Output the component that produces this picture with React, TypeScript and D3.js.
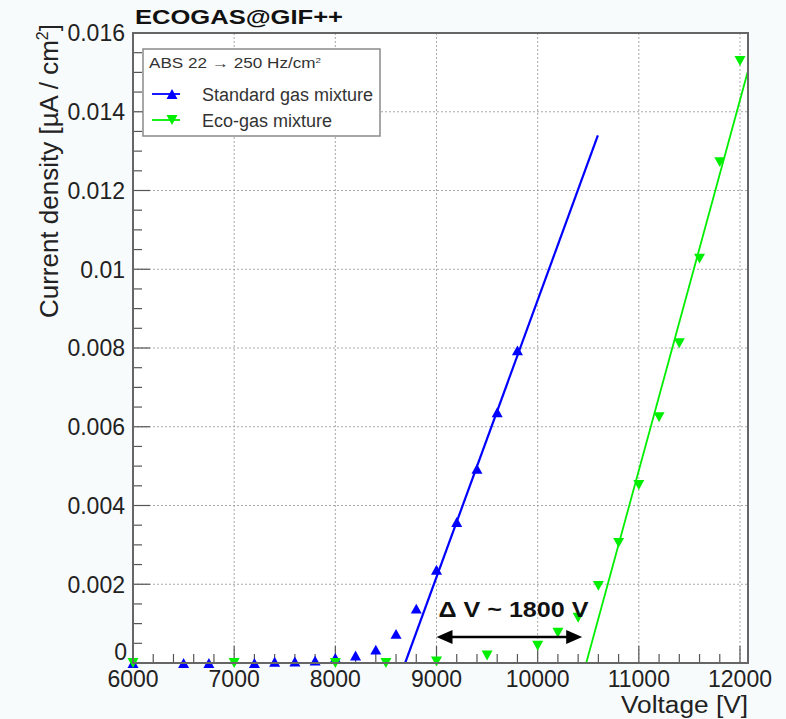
import React from "react";
import * as d3 from "d3";

// Standard gas mixture: applied voltage [V] and current density [µA/cm²]
const stdVoltage = [6000, 6500, 6750, 7200, 7400, 7600, 7800, 8000, 8200, 8400, 8600, 8800, 9000, 9200, 9400, 9600, 9800];
const stdCurrent = [0, 0, 0, 0, 0.00003, 0.00004, 0.00006, 0.00013, 0.00019, 0.00034, 0.00074, 0.00138, 0.00237, 0.00358, 0.00493, 0.00637, 0.00794];

// Eco-gas mixture
const ecoVoltage = [6000, 7000, 8000, 8500, 9000, 9500, 10000, 10200, 10400, 10600, 10800, 11000, 11200, 11400, 11600, 11800, 12000];
const ecoCurrent = [0, 0, 0, 0, 0.00004, 0.00019, 0.00044, 0.00077, 0.00115, 0.00196, 0.00305, 0.00452, 0.00624, 0.00812, 0.01027, 0.01272, 0.01529];

// Linear fits (endpoints)
const stdFitVoltage = [8690, 10595];
const stdFitCurrent = [0, 0.0134];
const ecoFitVoltage = [10480, 12079];
const ecoFitCurrent = [0, 0.01504];

// Axis ticks
const xTicks = [6000, 7000, 8000, 9000, 10000, 11000, 12000];
const yTicks = [0, 0.002, 0.004, 0.006, 0.008, 0.01, 0.012, 0.014, 0.016];

// Voltage-shift annotation
const shiftFrom = 9000;
const shiftTo = 10440;
const shiftLevel = 0.00066;
const shiftLabelLevel = 0.00118;
const shiftLabel = "\u0394 V ~ 1800 V";

const legendHeader = "ABS 22 \u2192 250 Hz/cm";
const seriesNames = ["Standard gas mixture", "Eco-gas mixture"];
const seriesColors = ["#0000ff", "#00ee00"];

const W = 786;
const H = 719;
const FONT = "'Liberation Sans', Arial, Helvetica, sans-serif";

const x = d3.scaleLinear().domain([6000, 12079]).range([133, 748]);
const y = d3.scaleLinear().domain([0, 0.016]).range([663, 33]);

const fmtY = (v: number) => String(+v.toFixed(4));

function triUp(cx: number, cy: number, s = 11) {
  const h = s * 0.9;
  return `M${cx - s / 2},${cy + h / 2}L${cx + s / 2},${cy + h / 2}L${cx},${cy - h / 2}Z`;
}
function triDown(cx: number, cy: number, s = 11) {
  const h = s * 0.9;
  return `M${cx - s / 2},${cy - h / 2}L${cx + s / 2},${cy - h / 2}L${cx},${cy + h / 2}Z`;
}

export default function App() {
  const [x0, x1] = x.range();
  const [y0, y1] = y.range();
  const line = d3
    .line<[number, number]>()
    .x((d) => x(d[0]))
    .y((d) => y(d[1]));

  const xMinor = d3.range(6000, 12079, 200).filter((v) => v % 1000 !== 0);
  const yMinor = d3.range(0, 0.0161, 0.0005).filter((v) => Math.abs(v / 0.002 - Math.round(v / 0.002)) > 1e-6);

  const stdFit = stdFitVoltage.map((v, i) => [v, stdFitCurrent[i]] as [number, number]);
  const ecoFit = ecoFitVoltage.map((v, i) => [v, ecoFitCurrent[i]] as [number, number]);

  const ay = y(shiftLevel);
  const ax0 = x(shiftFrom);
  const ax1 = x(shiftTo);
  const headL = 16;
  const headW = 7;

  return (
    <svg width={W} height={H} style={{ position: "absolute", left: 0, top: 0, background: "#f8fbfc" }} fontFamily={FONT}>
      <defs>
        <clipPath id="frameClip">
          <rect x={x0} y={y1} width={x1 - x0} height={y0 - y1} />
        </clipPath>
      </defs>
      <rect x={x0} y={y1} width={x1 - x0} height={y0 - y1} fill="#ffffff" />

      {/* grid */}
      <g stroke="#a8a8a8" strokeWidth={1} strokeDasharray="2,2">
        {xTicks.map((t) => (
          <line key={"gx" + t} x1={x(t)} x2={x(t)} y1={y1} y2={y0} />
        ))}
        {yTicks.map((t) => (
          <line key={"gy" + t} x1={x0} x2={x1} y1={y(t)} y2={y(t)} />
        ))}
      </g>

      {/* ticks */}
      <g stroke="#555" strokeWidth={1.2}>
        {xTicks.map((t) => (
          <line key={"tx" + t} x1={x(t)} x2={x(t)} y1={y0} y2={y0 - 17} />
        ))}
        {xMinor.map((t) => (
          <line key={"mx" + t} x1={x(t)} x2={x(t)} y1={y0} y2={y0 - 9} />
        ))}
        {yTicks.map((t) => (
          <line key={"ty" + t} x1={x0} x2={x0 + 17} y1={y(t)} y2={y(t)} />
        ))}
        {yMinor.map((t) => (
          <line key={"my" + t} x1={x0} x2={x0 + 9} y1={y(t)} y2={y(t)} />
        ))}
      </g>

      {/* fits */}
      <g clipPath="url(#frameClip)" fill="none">
        <path d={line(stdFit) || ""} stroke={seriesColors[0]} strokeWidth={2.2} />
        <path d={line(ecoFit) || ""} stroke={seriesColors[1]} strokeWidth={1.8} />
      </g>

      {/* data points */}
      <g fill={seriesColors[0]}>
        {stdVoltage.map((v, i) => (
          <path key={"s" + v} d={triUp(x(v), y(stdCurrent[i]))} />
        ))}
      </g>
      <g fill={seriesColors[1]}>
        {ecoVoltage.map((v, i) => (
          <path key={"e" + v} d={triDown(x(v), y(ecoCurrent[i]))} />
        ))}
      </g>

      {/* frame */}
      <rect x={x0} y={y1} width={x1 - x0} height={y0 - y1} fill="none" stroke="#666" strokeWidth={2} />

      {/* tick labels */}
      <g fontSize={23} fill="#222" textAnchor="middle">
        {xTicks.map((t) => (
          <text key={"lx" + t} x={x(t)} y={687}>
            {t}
          </text>
        ))}
      </g>
      <g fontSize={23} fill="#222" textAnchor="end">
        {yTicks.map((t) => (
          <text key={"ly" + t} x={t === 0 ? 127 : 125} y={t === 0 ? 660 : y(t)} dy={t === 0 ? 0 : "0.36em"}>
            {fmtY(t)}
          </text>
        ))}
      </g>

      {/* axis titles */}
      <text x={748} y={713} fontSize={23} textAnchor="end" fill="#222" textLength={127} lengthAdjust="spacingAndGlyphs">
        Voltage [V]
      </text>
      <text transform="translate(58,24) rotate(-90)" fontSize={26} textAnchor="end" fill="#222">
        Current density [µA / cm<tspan dy="-10" fontSize={16}>2</tspan>
        <tspan dy="10">]</tspan>
      </text>

      {/* title */}
      <text x={135} y={24} fontSize={20} fontWeight="bold" fill="#111" textLength={208} lengthAdjust="spacingAndGlyphs">
        ECOGAS@GIF++
      </text>

      {/* legend */}
      <rect x={143} y={49} width={237} height={87} fill="#ffffff" stroke="#8a8a8a" strokeWidth={1.5} />
      <text x={149} y={68} fontSize={14} fill="#333" textLength={172} lengthAdjust="spacingAndGlyphs">
        {legendHeader}
        <tspan dy="-5" fontSize={8}>2</tspan>
      </text>
      {seriesNames.map((name, i) => {
        const ry = 94 + i * 26;
        return (
          <g key={name}>
            <line x1={152} x2={180} y1={ry} y2={ry} stroke={seriesColors[i]} strokeWidth={1.8} />
            <path d={i === 0 ? triUp(172, ry) : triDown(172, ry)} fill={seriesColors[i]} />
            <text x={202} y={ry + 6.5} fontSize={18} fill="#333">
              {name}
            </text>
          </g>
        );
      })}

      {/* voltage shift annotation */}
      <g>
        <line x1={ax0 + headL - 2} x2={ax1 - headL + 2} y1={ay} y2={ay} stroke="#000" strokeWidth={2.5} />
        <path d={`M${ax0},${ay}L${ax0 + headL},${ay - headW}L${ax0 + headL},${ay + headW}Z`} fill="#000" />
        <path d={`M${ax1},${ay}L${ax1 - headL},${ay - headW}L${ax1 - headL},${ay + headW}Z`} fill="#000" />
        <text x={ax0 + 2} y={y(shiftLabelLevel)} fontSize={22} fontWeight="bold" fill="#111" textLength={150} lengthAdjust="spacingAndGlyphs">
          {shiftLabel}
        </text>
      </g>
    </svg>
  );
}
